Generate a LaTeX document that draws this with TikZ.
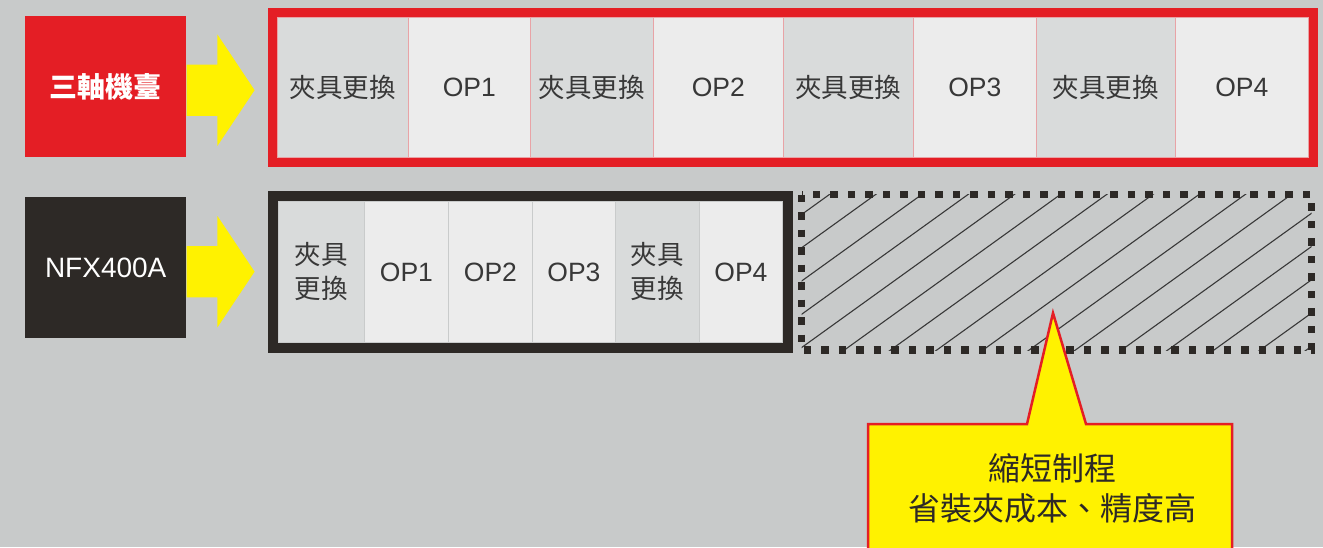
\documentclass[tikz,border=0pt]{standalone}
\usepackage{fontspec}
\setmainfont{Liberation Sans}
\newfontfamily\cjk{Noto Sans CJK TC}
\usepackage{tikz}
\usetikzlibrary{shapes.arrows}
\usetikzlibrary{positioning,fit}
\definecolor{bggray}{HTML}{C8CACA}
\definecolor{darkcell}{HTML}{D9DBDB}
\definecolor{lightcell}{HTML}{ECECEC}
\definecolor{ared}{HTML}{E41E25}
\definecolor{ablack}{HTML}{2D2926}
\definecolor{ayellow}{HTML}{FFF200}
\definecolor{sepred}{HTML}{E8A3A6}
\definecolor{sepgray}{HTML}{C9CBCB}
\definecolor{txtgray}{HTML}{383838}
\tikzset{machine/.style={minimum width=161, minimum height=141, inner sep=0pt, anchor=north west, text=white, font=\fontsize{28}{32}\selectfont},
  yarrow/.style={single arrow, fill=ayellow, draw=none, inner xsep=0pt, inner ysep=25.5, anchor=tail, minimum height=68, single arrow head extend=30, single arrow tip angle=112.6},
  cell/.style={inner sep=0pt, anchor=north west, text=txtgray, align=center, font=\fontsize{26.5}{34}\selectfont},
  fixture/.style={cell, fill=darkcell, font=\cjk\fontsize{26.5}{34}\selectfont},
  opcell/.style={cell, fill=lightcell},
  redframe/.style={draw=ared, line width=9.5, inner sep=4.75},
  blackframe/.style={draw=ablack, line width=10, inner sep=5},
  hatch/.style={draw=txtgray, line width=1.1},
  dotbox/.style={draw=ablack, line width=7.5, dash pattern=on 7.5 off 10},
  callout/.style={fill=ayellow, draw=ared, line width=2.5, line join=miter}}

\begin{document}
\begin{tikzpicture}[x=1pt, y=-1pt]
\fill[bggray] (0,0) rectangle (1323,547);
\useasboundingbox (0,0) rectangle (1323,547);
 \node[machine, fill=ared, font=\cjk\bfseries\fontsize{28}{32}\selectfont] (m1) at (25,16) {三軸機臺};
 \node[machine, fill=ablack] (m2) at (25,197) {NFX400A};
 \node[yarrow] (a1) at ([yshift=-3.5pt]m1.east) {};
 \node[yarrow] (a2) at ([yshift=-4pt]m2.east) {};
 % three-axis machine: eight steps
 \foreach \x/\xx/\s/\t [count=\i] in {277/408/fixture/夾具更換, 408/530/opcell/OP1, 530/653/fixture/夾具更換, 653/783/opcell/OP2, 783/913/fixture/夾具更換, 913/1036/opcell/OP3, 1036/1175/fixture/夾具更換, 1175/1308/opcell/OP4}
  \node[\s, draw=sepred, line width=0.6, minimum width=\xx-\x, minimum height=140] (t\i) at (\x,17) {\t};
 \node[redframe, fit=(t1)(t8)] (row1) {};
 % NFX400A: six steps
 \foreach \x/\xx/\s/\t [count=\i] in {278/364/fixture/夾具\\更換, 364/448/opcell/OP1, 448/532/opcell/OP2, 532/615/opcell/OP3, 615/699/fixture/夾具\\更換, 699/782/opcell/OP4}
  \node[\s, draw=sepgray, line width=0.8, minimum width=\xx-\x, minimum height=141] (b\i) at (\x,201) {\t};
 \node[blackframe, fit=(b1)(b6)] (row2) {};
 % saved time
 \coordinate (s1) at (801.5,194.5);
 \coordinate (s2) at (1311.5,350);
 \begin{scope}
  \clip (s1) rectangle (s2);
  \foreach \k in {-2,...,14}
   \draw[hatch] (873.5+46.2*\k-300,196+216) -- (873.5+46.2*\k+100,196-72);
 \end{scope}
 \draw[dotbox] (s1) rectangle (s2);
 \coordinate (tip) at (1053,313);
 \draw[callout] (868,424) -- (1027,424) -- (tip) -- (1086,424) -- (1232,424) -- (1232,552) -- (868,552) -- cycle;
 \node[font=\cjk\fontsize{32}{40}\selectfont, text=ablack, align=center] (note) at (1052,488) {縮短制程\\省裝夾成本、精度高};
\end{tikzpicture}
\end{document}
